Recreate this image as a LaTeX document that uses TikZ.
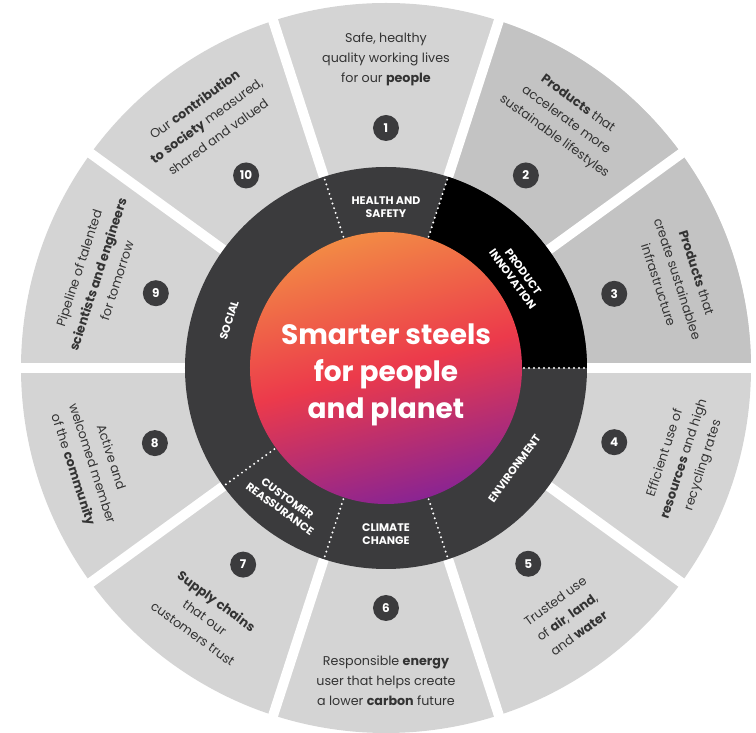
\documentclass[tikz,border=0pt]{standalone}
\usepackage{fontspec}
\setmainfont{Poppins}

\definecolor{seglight}{HTML}{D4D4D4}
\definecolor{segdark}{HTML}{C3C3C3}
\definecolor{ringgray}{HTML}{3B3B3D}
\definecolor{txtgray}{HTML}{333333}
\definecolor{steelorange}{HTML}{F28A45}
\definecolor{steelred}{HTML}{EC3A4B}
\definecolor{steelpurple}{HTML}{8A2492}

\tikzset{
  gap/.style={white, line width=10pt},
  sepdots/.style={white, line width=2.2pt, line cap=round, dash pattern=on 0pt off 5pt},
  numdot/.style={circle, fill=ringgray, text=white, minimum size=26pt, inner sep=0pt,
    font=\bfseries\fontsize{12}{12}\selectfont},
  seglabel/.style={align=center, text=txtgray, font=\fontsize{12.7}{20}\selectfont},
  ringlabel/.style={align=center, text=white, font=\bfseries\fontsize{11}{13}\selectfont}
}

\begin{document}
\begin{tikzpicture}[x=1pt,y=1pt]
\useasboundingbox (-386,-365) rectangle (370,368);

\fill[seglight] (0,0) circle (365);
\fill[segdark] (0,0) -- (0:365) arc[start angle=0, end angle=72, radius=365] -- cycle;

\draw[gap] (0:190) -- (0:380);
\draw[gap] (36:190) -- (36:380);
\draw[gap] (72:190) -- (72:380);
\draw[gap] (108:190) -- (108:380);
\draw[gap] (144:190) -- (144:380);
\draw[gap] (180:190) -- (180:380);
\draw[gap] (216:190) -- (216:380);
\draw[gap] (252:190) -- (252:380);
\draw[gap] (288:190) -- (288:380);
\draw[gap] (324:190) -- (324:380);

\fill[ringgray] (0,0) circle (201);
\fill[black] (0,0) -- (0:201) arc[start angle=0, end angle=72, radius=201] -- cycle;

\draw[sepdots] (108:138) -- (108:199);
\draw[sepdots] (72:138) -- (72:199);
\draw[sepdots] (0:138) -- (0:199);
\draw[sepdots] (-72:138) -- (-72:199);
\draw[sepdots] (-108:138) -- (-108:199);
\draw[sepdots] (-144:138) -- (-144:199);

\shade[top color=steelorange, bottom color=steelpurple, middle color=steelred, shading angle=15]
  (0,0) circle (136);

\node[align=center, text=white, font=\bfseries\fontsize{28}{37}\selectfont] (title) at (0,-7)
  {Smarter steels\\for people\\and planet};

\node[ringlabel] (health) at (90:161) {HEALTH AND\\SAFETY};
\node[ringlabel, rotate=-54] (product) at (35:161) {PRODUCT\\INNOVATION};
\node[ringlabel, rotate=54] (environment) at (-38:163) {ENVIRONMENT};
\node[ringlabel] (climate) at (-90:166) {CLIMATE\\CHANGE};
\node[ringlabel, rotate=-36] (customer) at (-127:170) {CUSTOMER\\REASSURANCE};
\node[ringlabel, rotate=72] (social) at (163:164) {SOCIAL};

\node[numdot] (n1) at (90:240) {1};
\node[numdot] (n2) at (54:238) {2};
\node[numdot] (n3) at (18:240) {3};
\node[numdot] (n4) at (-18:240) {4};
\node[numdot] (n5) at (-54:242) {5};
\node[numdot] (n6) at (-90:240) {6};
\node[numdot] (n7) at (-126:243) {7};
\node[numdot] (n8) at (-162:243) {8};
\node[numdot] (n9) at (162:242) {9};
\node[numdot] (n10) at (126:238) {10};

\node[seglabel] (t1) at (90:309) {Safe, healthy\\quality working lives\\for our \textbf{people}};
\node[seglabel, rotate=-36] (t2) at (54:306) {\textbf{Products} that\\accelerate more\\sustainable lifestyles};
\node[seglabel, rotate=-72] (t3) at (17:305) {\textbf{Products} that\\create sustainablee\\infrastructure};
\node[seglabel, rotate=72] (t4) at (-17:312) {Efficient use of\\\textbf{resources} and high\\recycling rates};
\node[seglabel, rotate=36] (t5) at (-54:308) {Trusted use\\of \textbf{air}, \textbf{land},\\and \textbf{water}};
\node[seglabel] (t6) at (-90:313) {Responsible \textbf{energy}\\user that helps create\\a lower \textbf{carbon} future};
\node[seglabel, rotate=-36] (t7) at (-126:308) {\textbf{Supply chains}\\that our\\customers trust};
\node[seglabel, rotate=-72] (t8) at (-162:310) {Active and\\welcomed member\\of the \textbf{community}};
\node[seglabel, rotate=72] (t9) at (162:303) {Pipeline of talented\\\textbf{scientists and engineers}\\for tomorrow};
\node[seglabel, rotate=36] (t10) at (126:306) {Our \textbf{contribution}\\\textbf{to society} measured,\\shared and valued};
\end{tikzpicture}
\end{document}
